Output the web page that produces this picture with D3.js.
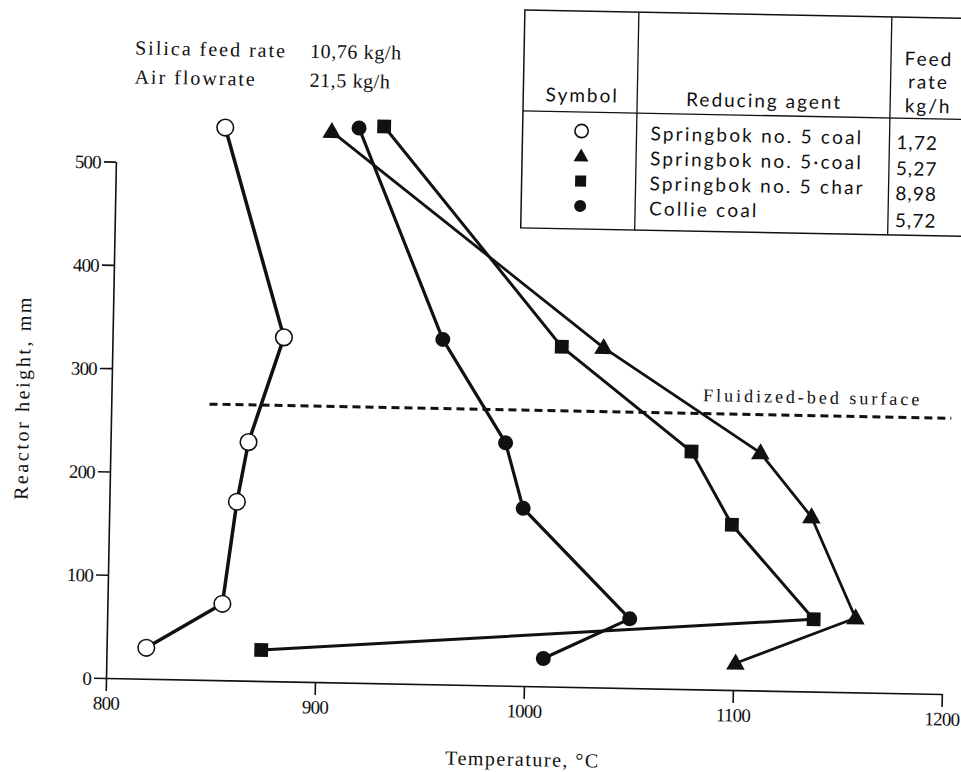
<!DOCTYPE html>
<html>
<head>
<meta charset="utf-8">
<script src="https://cdn.jsdelivr.net/npm/d3@7"></script>
<style>
  body { margin: 0; background: #fff; }
  text { fill: #111; }
  .serif { font-family: "Liberation Serif", "DejaVu Serif", serif; }
  .sans { font-family: Lato, "Open Sans", sans-serif; }
</style>
</head>
<body>
<div id="container"></div>
<script>
/**
 * CONSTANTS AND GLOBALS
 * */
const width = 961,
    height = 772,
    origin = { x: 106, y: 678 },
    tilt = 1.1; // the scanned page is slightly skewed

// reactor heights (mm) and temperatures (°C) for each run, top to bottom
const openHeight = [535, 333, 231, 173, 74, 30];
const openTemp = [852, 882, 866, 861, 855, 819];

const triHeight = [533, 329, 230, 169, 72, 26];
const triTemp = [903, 1035, 1111, 1136, 1158, 1101];

const squareHeight = [539, 329, 230, 160, 70, 30];
const squareTemp = [928, 1015, 1078, 1098, 1138, 874];

const collieHeight = [537, 334, 235, 172, 67, 27];
const collieTemp = [916, 958, 989, 998, 1050, 1009];

const bedSurface = 267;
const bedRange = [847, 1202];

const xTicks = [800, 900, 1000, 1100, 1200];
const yTicks = [0, 100, 200, 300, 400, 500];

const legendAgents = ["Springbok no. 5 coal", "Springbok no. 5·coal", "Springbok no. 5 char", "Collie coal"];
const legendRates = ["1,72", "5,27", "8,98", "5,72"];

/**
 * SCALES
 * */
const xScale = d3.scaleLinear().domain([800, 1200]).range([origin.x, 942]);
const yScale = d3.scaleLinear().domain([0, 500]).range([origin.y, 161.5]);

const svg = d3.select("#container")
    .append("svg")
    .attr("width", width)
    .attr("height", height);

const page = svg.append("g")
    .attr("transform", `rotate(${tilt}, ${origin.x}, ${origin.y})`);

/* AXES */
const xAxis = d3.axisBottom(xScale)
    .tickValues(xTicks)
    .tickFormat(d3.format("d"))
    .tickSize(13)
    .tickSizeOuter(0)
    .tickPadding(5);
const yAxis = d3.axisLeft(yScale)
    .tickValues(yTicks)
    .tickFormat(d3.format("d"))
    .tickSize(12)
    .tickSizeOuter(0)
    .tickPadding(3);

const xAxisGroup = page.append("g")
    .attr("transform", `translate(0,${origin.y})`)
    .call(xAxis);
const yAxisGroup = page.append("g")
    .attr("transform", `translate(${origin.x},0)`)
    .call(yAxis);

[xAxisGroup, yAxisGroup].forEach(g => {
    g.select(".domain").attr("stroke", "#111").attr("stroke-width", 1.6);
    g.selectAll(".tick line").attr("stroke", "#111").attr("stroke-width", 1.6);
    g.selectAll(".tick text")
        .attr("class", "serif")
        .style("font-size", "19px")
        .style("letter-spacing", "-0.8px")
        .attr("fill", "#111");
});
yAxisGroup.selectAll(".tick text").attr("dy", "0.35em");

page.append("text")
    .attr("class", "serif")
    .attr("x", xScale(1000))
    .attr("y", 758)
    .attr("text-anchor", "middle")
    .style("font-size", "20px")
    .style("letter-spacing", "1.5px")
    .text("Temperature, °C");

page.append("text")
    .attr("class", "serif")
    .attr("transform", `translate(24, ${yScale(270)}) rotate(-90)`)
    .attr("text-anchor", "middle")
    .style("font-size", "20px")
    .style("letter-spacing", "2.6px")
    .text("Reactor height, mm");

/* FLUIDIZED BED SURFACE */
page.append("line")
    .attr("x1", xScale(bedRange[0]))
    .attr("x2", xScale(bedRange[1]))
    .attr("y1", yScale(bedSurface))
    .attr("y2", yScale(bedSurface))
    .attr("stroke", "#111")
    .attr("stroke-width", 3)
    .attr("stroke-dasharray", "8,5");

page.append("text")
    .attr("class", "serif")
    .attr("x", xScale(1083))
    .attr("y", yScale(279))
    .style("font-size", "18px")
    .style("letter-spacing", "3px")
    .text("Fluidized-bed surface");

/* SERIES */
const series = [
    { h: openHeight, t: openTemp, sym: "open", sw: 3.5 },
    { h: triHeight, t: triTemp, sym: "tri", sw: 2.8 },
    { h: squareHeight, t: squareTemp, sym: "square", sw: 3 },
    { h: collieHeight, t: collieTemp, sym: "dot", sw: 3.2 }
];

const line = d3.line()
    .x(d => xScale(d[1]))
    .y(d => yScale(d[0]));

series.forEach(s => {
    page.append("path")
        .datum(d3.zip(s.h, s.t))
        .attr("d", line)
        .attr("fill", "none")
        .attr("stroke", "#111")
        .attr("stroke-width", s.sw)
        .attr("stroke-linejoin", "round");
});

function drawMarker(g, sym, x, y, big) {
    const k = big ? 1 : 0.8;
    if (sym === "open") {
        g.append("circle").attr("cx", x).attr("cy", y).attr("r", 8.3 * k)
            .attr("fill", "#fff").attr("stroke", "#111").attr("stroke-width", 1.6);
    } else if (sym === "dot") {
        g.append("circle").attr("cx", x).attr("cy", y).attr("r", 7.5 * k)
            .attr("fill", "#111");
    } else if (sym === "square") {
        g.append("path")
            .attr("d", d3.symbol(d3.symbolSquare, 190 * k * k)())
            .attr("transform", `translate(${x},${y})`)
            .attr("fill", "#111");
    } else {
        g.append("path")
            .attr("d", d3.symbol(d3.symbolTriangle, 150 * k * k)())
            .attr("transform", `translate(${x},${y + 1})`)
            .attr("fill", "#111");
    }
}

series.forEach(s => {
    d3.zip(s.h, s.t).forEach(d => drawMarker(page, s.sym, xScale(d[1]), yScale(d[0]), true));
});

/* RUN CONDITIONS */
const notes = page.append("g").attr("class", "serif").style("font-size", "20px");
notes.append("text").attr("x", 123).attr("y", 54).style("letter-spacing", "2px").text("Silica feed rate");
notes.append("text").attr("x", 298).attr("y", 54).style("letter-spacing", "0.6px").text("10,76 kg/h");
notes.append("text").attr("x", 123).attr("y", 83).style("letter-spacing", "2px").text("Air flowrate");
notes.append("text").attr("x", 298).attr("y", 83).style("letter-spacing", "0.6px").text("21,5 kg/h");

/* LEGEND TABLE */
const table = page.append("g").attr("class", "sans");
const tLeft = 512, tTop = 2, tBottom = 220, tHead = 103, col1 = 626, col2 = 879, tRight = 990;

table.append("rect")
    .attr("x", tLeft).attr("y", tTop)
    .attr("width", tRight - tLeft).attr("height", tBottom - tTop)
    .attr("fill", "#fff").attr("stroke", "#111").attr("stroke-width", 1.5);
[col1, col2].forEach(cx => table.append("line")
    .attr("x1", cx).attr("x2", cx).attr("y1", tTop).attr("y2", tBottom)
    .attr("stroke", "#111").attr("stroke-width", 1.3));
table.append("line")
    .attr("x1", tLeft).attr("x2", tRight).attr("y1", tHead).attr("y2", tHead)
    .attr("stroke", "#111").attr("stroke-width", 1.3);

const headStyle = t => t.style("font-size", "19px").style("letter-spacing", "2px").attr("text-anchor", "middle");
table.append("text").attr("x", 571).attr("y", 93).text("Symbol").call(headStyle);
table.append("text").attr("x", 753).attr("y", 95).text("Reducing agent").call(headStyle);
table.append("text").attr("x", 917).attr("y", 50).text("Feed").call(headStyle);
table.append("text").attr("x", 917).attr("y", 73).text("rate").call(headStyle);
table.append("text").attr("x", 917).attr("y", 97).text("kg/h").call(headStyle);

const rowY = [124, 149, 174, 199];
const rateY = [128, 154, 179, 206];
const legendSyms = ["open", "tri", "square", "dot"];
legendAgents.forEach((name, i) => {
    drawMarker(table, legendSyms[i], 571, rowY[i] - 2, false);
    table.append("text").attr("x", 640).attr("y", rowY[i] + 6)
        .style("font-size", "19px").style("letter-spacing", "2.2px").text(name);
    table.append("text").attr("x", 886).attr("y", rateY[i] + 6)
        .style("font-size", "19px").style("letter-spacing", "1px").text(legendRates[i]);
});
</script>
</body>
</html>
